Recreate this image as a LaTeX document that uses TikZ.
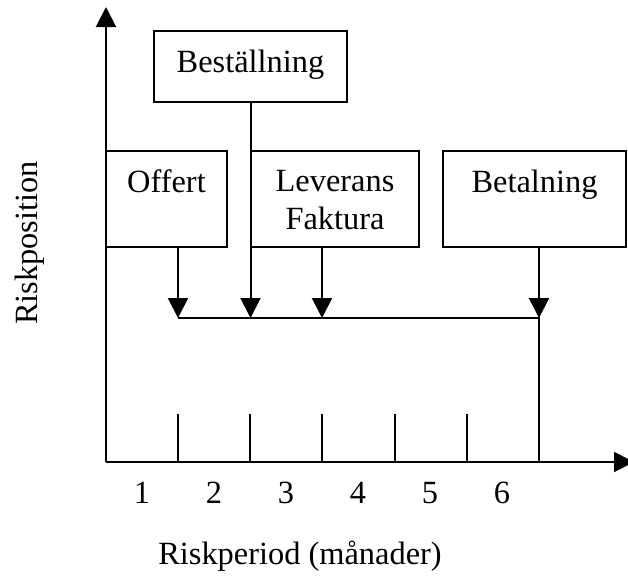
\documentclass[tikz,border=0pt]{standalone}
\usepackage{fontspec}
\setmainfont{Liberation Serif}
\usetikzlibrary{positioning,arrows.meta}

\begin{document}
\begin{tikzpicture}[
  x=0.5pt, y=-0.5pt,
  font=\fontsize{16.2}{19}\selectfont,
  line width=1pt,
  box/.style={draw, minimum height=48pt, inner sep=0pt},
  txt/.style={anchor=north, inner sep=9.5pt, align=center},
  arr/.style={-{Triangle[length=10pt, width=10pt]}},
  tick/.style={draw}]
  \useasboundingbox (0,0) rectangle (628,580);
  % axes
  \coordinate (origin) at (106,462);
  \coordinate (ytop) at (106,7);
  \coordinate (xend) at (634,462);
  \draw[arr] (origin) -- (ytop);
  \draw[arr] (origin) -- (xend);
  % events
  \node[box, minimum width=60.5pt, label={[txt]north:Offert}] (offert) at (166.5,199) {};
  \node[box, minimum width=96.5pt, minimum height=35.5pt, label={[txt]north:Beställning}] (bestallning) at (250.5,66.5) {};
  \node[box, minimum width=84pt, label={[txt]north:Leverans\\Faktura}] (leverans) at (335,199) {};
  \node[box, minimum width=91.5pt, label={[txt]north:Betalning}] (betalning) at (534.5,199) {};
  % timeline
  \coordinate (t1) at (178,318);
  \coordinate (t2) at (250.5,318);
  \coordinate (t3) at (322,318);
  \coordinate (t4) at (539,318);
  \draw[arr] (offert.south -| t1) -- (t1);
  \draw[arr] (bestallning.south) -- (t2);
  \draw[arr] (leverans.south -| t3) -- (t3);
  \draw[arr] (betalning.south -| t4) -- (t4);
  \draw (t1) -- (t4) -- (t4 |- origin);
  % months
  \foreach \i in {0,...,5}
    \draw[tick] (178+72.2*\i,414) -- (178+72.2*\i,462);
  \foreach \m [count=\i from 0] in {1,...,6}
    \node (m\m) at (142+72*\i,493) {\m};
  \node[rotate=90] (ylab) at (30,243) {Riskposition};
  \node (xlab) at (300,556) {Riskperiod (månader)};
\end{tikzpicture}
\end{document}
